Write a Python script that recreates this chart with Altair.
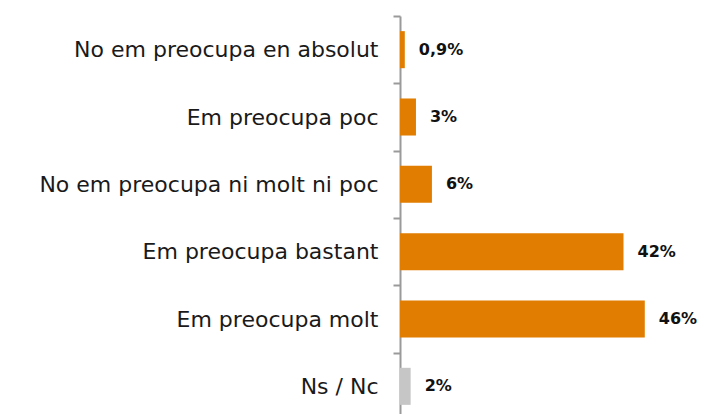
import altair as alt
import pandas as pd

categories = [
    "No em preocupa en absolut",
    "Em preocupa poc",
    "No em preocupa ni molt ni poc",
    "Em preocupa bastant",
    "Em preocupa molt",
    "Ns / Nc",
]
values = [0.9, 3, 6, 42, 46, 2]
labels = ["0,9%", "3%", "6%", "42%", "46%", "2%"]
colors = ["#E17D00", "#E17D00", "#E17D00", "#E17D00", "#E17D00", "#C6C6C6"]

df = pd.DataFrame({"cat": categories, "val": values, "label": labels, "color": colors})

H = 404
STEP = H / 6

y = alt.Y(
    "cat:N",
    sort=categories,
    scale=alt.Scale(paddingInner=0.45, paddingOuter=0.225),
    axis=alt.Axis(
        title=None,
        domainColor="#9A9A9A",
        domainWidth=2,
        tickColor="#9A9A9A",
        tickWidth=2,
        tickSize=7,
        tickOffset=-STEP / 2,
        labelOffset=STEP / 2,
        labelPadding=15,
        labelFont="DejaVu Sans",
        labelFontSize=22,
        labelColor="#1a1a1a",
        labelLimit=500,
    ),
)
x = alt.X("val:Q", scale=alt.Scale(domain=[0, 56]), axis=None)

bars = alt.Chart(df).mark_bar().encode(
    x=x, y=y, color=alt.Color("color:N", scale=None)
)
text = alt.Chart(df).mark_text(
    align="left", dx=14, font="DejaVu Sans", fontSize=16, fontWeight="bold", color="#111111"
).encode(x=x, y=y, text="label:N")

chart = (
    alt.layer(bars, text)
    .properties(
        width=298,
        height=H,
        autosize=alt.AutoSizeParams(type="none"),
        padding={"left": 392, "top": 8, "right": 2, "bottom": 0},
    )
    .configure_view(stroke=None)
)

chart.save("out.html", embed_options={"renderer": "svg", "actions": False})
